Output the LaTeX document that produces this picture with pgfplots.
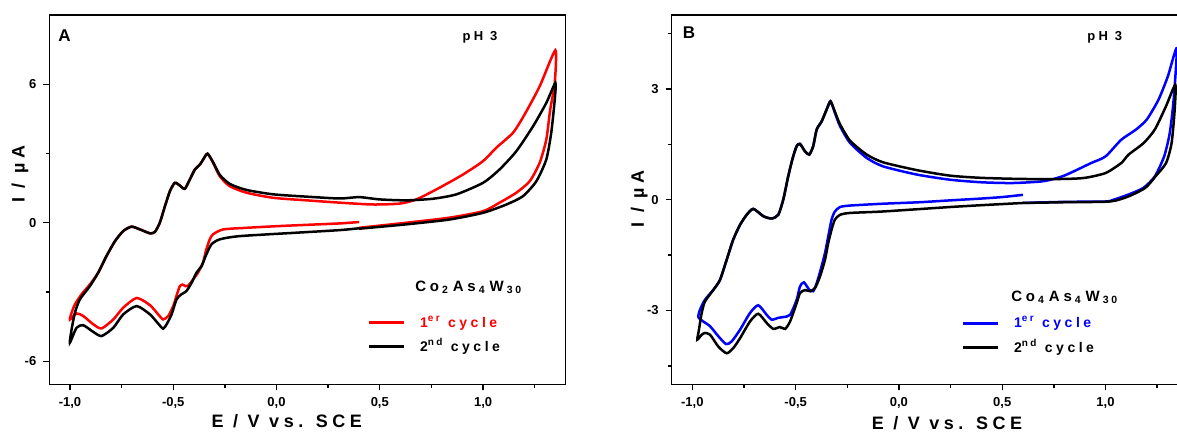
\documentclass[border=0pt]{standalone}
\usepackage{fontspec}
\setmainfont{Liberation Sans}
\newfontfamily\ls{Liberation Sans}[LetterSpace=25]
\newcommand\sub[1]{\hspace{1.5pt}\textsubscript{#1}\hspace{2pt}}
\usepackage{pgfplots}
\pgfplotsset{compat=1.18}
\pgfplotsset{cvaxis/.style={
  scale only axis, width=258.2pt, height=184.65pt,
  xmin=-1.1, xmax=1.4,
  axis line style={line width=0.75pt},
  tick style={line width=0.7pt, black},
  tick align=outside, xtick pos=bottom, ytick pos=left,
  major tick length=3pt, minor tick length=1.8pt,
  xtick={-1,-0.5,0,0.5,1}, xticklabels={{-1,0},{-0,5},{0,0},{0,5},{1,0}},
  minor xtick={-0.75,-0.25,0.25,0.75,1.25},
  ticklabel style={font=\bfseries\fontsize{6.5}{7}\selectfont},
  label style={font=\ls\bfseries\fontsize{9}{10}\selectfont},
  xlabel={E / V vs. SCE}, ylabel={I / µA},
  legend style={draw=none, fill=none, inner sep=0pt, row sep=4pt,
    font=\ls\bfseries\fontsize{7}{8}\selectfont, nodes={inner sep=0pt, anchor=west}},
  legend cell align=left,
  legend image code/.code={\draw[##1, line width=1.5pt] (0pt,0pt) -- (17.5pt,0pt); \path (25pt,0pt);},
}}
\begin{document}
\begin{tikzpicture}
\useasboundingbox (0,0) rectangle (588.5pt,216pt);
\clip (0,0) rectangle (588.5pt,216pt);
% ---------------- Panel A ----------------
\begin{axis}[cvaxis, at={(24.65pt,23.85pt)}, anchor=south west,
  ymin=-7, ymax=9, ytick={-6,0,6}, yticklabels={-6,0,6}, minor ytick={-3,3},
  xlabel style={at={(axis description cs:0.46,-0.101)}, anchor=center},
  ylabel style={at={(axis description cs:-0.057,0.569)}, anchor=center},
  legend style={at={(axis description cs:0.615,0.1335)}, anchor=west}]
\addplot[red, line width=1.25pt, smooth, tension=0.4] coordinates {
(0.40,0.03) (0.306,-0.03) (0.15,-0.09) (0.0,-0.15) (-0.145,-0.22) (-0.258,-0.29)
(-0.307,-0.5) (-0.323,-0.72) (-0.34,-1.16) (-0.356,-1.73) (-0.38,-2.16) (-0.403,-2.45)
(-0.427,-2.72) (-0.44,-2.75) (-0.455,-2.68) (-0.468,-2.75) (-0.48,-3.05) (-0.5,-3.61)
(-0.524,-4.04) (-0.549,-4.19) (-0.573,-3.97) (-0.613,-3.57) (-0.677,-3.26) (-0.742,-3.68)
(-0.79,-4.19) (-0.847,-4.58) (-0.887,-4.4) (-0.936,-4.04) (-0.968,-3.93) (-1.0,-4.19)
(-0.992,-3.9) (-0.976,-3.54) (-0.944,-3.1) (-0.903,-2.67) (-0.863,-2.16) (-0.823,-1.44)
(-0.782,-0.8) (-0.742,-0.36) (-0.702,-0.17) (-0.661,-0.29) (-0.613,-0.46) (-0.589,-0.4)
(-0.565,0.0) (-0.54,0.72) (-0.516,1.37) (-0.492,1.73) (-0.468,1.61) (-0.444,1.47)
(-0.42,1.87) (-0.395,2.31) (-0.371,2.52) (-0.355,2.74) (-0.334,2.99) (-0.307,2.6)
(-0.275,2.02) (-0.226,1.58) (-0.145,1.3) (-0.016,1.08) (0.145,0.97) (0.306,0.87)
(0.467,0.79) (0.597,0.83) (0.677,1.01) (0.79,1.52) (0.903,2.09) (1.0,2.67)
(1.064,3.25) (1.145,3.9) (1.201,4.69) (1.274,5.91) (1.35,7.47)
(1.347,6.06) (1.325,4.9) (1.306,3.6) (1.274,2.6) (1.226,1.8) (1.161,1.3)
(1.08,0.87) (1.0,0.5) (0.838,0.22) (0.629,0.0) (0.4,-0.22)
};
\addlegendentry{\textcolor{red}{1\textsuperscript{er} cycle}}
\addplot[black, line width=1.25pt, smooth, tension=0.4] coordinates {
(0.4,-0.24) (0.306,-0.32) (0.1,-0.43) (-0.178,-0.58) (-0.275,-0.72) (-0.315,-0.94)
(-0.34,-1.38) (-0.363,-1.88) (-0.387,-2.16) (-0.411,-2.6) (-0.436,-2.96) (-0.46,-3.1)
(-0.484,-3.32) (-0.508,-3.97) (-0.532,-4.4) (-0.549,-4.59) (-0.573,-4.37) (-0.613,-3.97)
(-0.677,-3.61) (-0.742,-3.97) (-0.79,-4.55) (-0.847,-4.91) (-0.887,-4.73) (-0.936,-4.44)
(-0.968,-4.55) (-1.0,-5.19)
(-0.992,-4.62) (-0.976,-3.9) (-0.952,-3.32) (-0.903,-2.74) (-0.863,-2.16) (-0.823,-1.44)
(-0.782,-0.8) (-0.742,-0.36) (-0.702,-0.17) (-0.661,-0.29) (-0.613,-0.46) (-0.589,-0.4)
(-0.565,0.0) (-0.54,0.72) (-0.516,1.37) (-0.492,1.73) (-0.468,1.61) (-0.444,1.47)
(-0.42,1.87) (-0.395,2.31) (-0.371,2.52) (-0.355,2.74) (-0.334,2.99) (-0.307,2.62)
(-0.275,2.08) (-0.226,1.68) (-0.145,1.42) (-0.016,1.23) (0.145,1.13) (0.306,1.05)
(0.4,1.11) (0.5,1.01) (0.629,0.97) (0.758,1.04) (0.871,1.23) (1.0,1.73)
(1.08,2.31) (1.161,3.1) (1.242,4.18) (1.306,5.19) (1.35,6.06)
(1.347,5.34) (1.33,3.9) (1.306,2.74) (1.258,1.8) (1.193,1.15) (1.113,0.79)
(1.0,0.43) (0.838,0.14) (0.629,-0.07) (0.4,-0.26)
};
\addlegendentry{2\textsuperscript{nd} cycle}
\node[anchor=north west, inner sep=0pt, font=\bfseries\fontsize{8.5}{9}\selectfont] at (axis description cs:0.017,0.962) {A};
\node[font=\ls\bfseries\fontsize{6.5}{7}\selectfont] at (axis description cs:0.834,0.94) {pH 3};
\node[anchor=west, inner sep=0pt, font=\ls\bfseries\fontsize{7.5}{8}\selectfont] at (axis description cs:0.708,0.263) {Co\sub{2}As\sub{4}W\sub{30}};
\end{axis}
% ---------------- Panel B ----------------
\begin{axis}[cvaxis, at={(335.85pt,23.85pt)}, anchor=south west,
  ymin=-5, ymax=5, ytick={-3,0,3}, yticklabels={-3,0,3}, minor ytick={-4.5,-1.5,1.5,4.5},
  xlabel style={at={(axis description cs:0.533,-0.104)}, anchor=center},
  ylabel style={at={(axis description cs:-0.063,0.502)}, anchor=center},
  legend style={at={(axis description cs:0.56,0.131)}, anchor=west}]
\addplot[blue, line width=1.25pt, smooth, tension=0.4] coordinates {
(0.60,0.13) (0.5,0.07) (0.4,0.03) (0.247,-0.02) (0.1,-0.07) (-0.076,-0.11) (-0.237,-0.16)
(-0.285,-0.2) (-0.31,-0.32) (-0.326,-0.54) (-0.342,-0.99) (-0.358,-1.45) (-0.379,-1.9)
(-0.398,-2.26) (-0.415,-2.48) (-0.434,-2.44) (-0.46,-2.24) (-0.479,-2.35) (-0.495,-2.71)
(-0.527,-3.12) (-0.56,-3.18) (-0.584,-3.2) (-0.616,-3.25) (-0.64,-3.12) (-0.681,-2.86)
(-0.721,-3.07) (-0.769,-3.52) (-0.81,-3.84) (-0.837,-3.91) (-0.874,-3.7) (-0.914,-3.43)
(-0.947,-3.3) (-0.971,-3.18)
(-0.963,-2.98) (-0.939,-2.71) (-0.898,-2.44) (-0.866,-2.17) (-0.834,-1.63) (-0.802,-1.08)
(-0.769,-0.68) (-0.737,-0.41) (-0.705,-0.25) (-0.656,-0.45) (-0.616,-0.51) (-0.584,-0.41)
(-0.56,0.0) (-0.536,0.63) (-0.514,1.13) (-0.495,1.45) (-0.479,1.51) (-0.455,1.31)
(-0.434,1.22) (-0.415,1.45) (-0.398,1.9) (-0.374,2.12) (-0.35,2.44) (-0.331,2.66)
(-0.31,2.35) (-0.285,1.99) (-0.237,1.54) (-0.156,1.13) (-0.076,0.9) (0.086,0.68)
(0.247,0.54) (0.4,0.47) (0.55,0.45) (0.7,0.5) (0.8,0.65) (0.93,0.99) (1.0,1.17)
(1.076,1.62) (1.148,1.9) (1.2,2.17) (1.257,2.71) (1.302,3.34) (1.345,4.1)
(1.33,2.71) (1.311,1.8) (1.284,1.17) (1.239,0.63) (1.184,0.32) (1.112,0.14)
(1.04,0.0) (1.0,-0.05) (0.8,-0.06) (0.6,-0.09)
};
\addlegendentry{\textcolor{blue}{1\textsuperscript{er} cycle}}
\addplot[black, line width=1.25pt, smooth, tension=0.4] coordinates {
(0.6,-0.09) (0.4,-0.15) (0.247,-0.2) (-0.076,-0.32) (-0.237,-0.36) (-0.285,-0.41)
(-0.31,-0.54) (-0.326,-0.81) (-0.342,-1.17) (-0.358,-1.63) (-0.382,-2.08) (-0.406,-2.39)
(-0.43,-2.48) (-0.455,-2.45) (-0.479,-2.53) (-0.495,-2.8) (-0.527,-3.3) (-0.551,-3.5)
(-0.576,-3.45) (-0.608,-3.5) (-0.64,-3.34) (-0.681,-3.09) (-0.721,-3.3) (-0.769,-3.75)
(-0.802,-4.02) (-0.834,-4.16) (-0.874,-3.98) (-0.914,-3.66) (-0.939,-3.61) (-0.955,-3.66)
(-0.976,-3.79)
(-0.968,-3.52) (-0.955,-3.07) (-0.939,-2.76) (-0.898,-2.44) (-0.866,-2.17) (-0.834,-1.63)
(-0.802,-1.08) (-0.769,-0.68) (-0.737,-0.41) (-0.705,-0.25) (-0.656,-0.45) (-0.616,-0.51)
(-0.584,-0.41) (-0.56,0.0) (-0.536,0.63) (-0.514,1.13) (-0.495,1.45) (-0.479,1.51)
(-0.455,1.31) (-0.434,1.22) (-0.415,1.45) (-0.398,1.9) (-0.374,2.12) (-0.35,2.44)
(-0.331,2.66) (-0.31,2.38) (-0.285,2.04) (-0.237,1.6) (-0.156,1.22) (-0.076,1.01)
(0.086,0.8) (0.247,0.65) (0.4,0.59) (0.6,0.56) (0.8,0.56) (0.9,0.59) (1.0,0.72)
(1.076,0.99) (1.112,1.22) (1.184,1.53) (1.239,1.9) (1.293,2.53) (1.338,3.11)
(1.335,2.44) (1.32,1.53) (1.293,0.99) (1.242,0.63) (1.193,0.32) (1.112,0.09)
(1.022,-0.05) (0.8,-0.07) (0.6,-0.09)
};
\addlegendentry{2\textsuperscript{nd} cycle}
\node[anchor=north west, inner sep=0pt, font=\bfseries\fontsize{8.5}{9}\selectfont] at (axis description cs:0.021,0.968) {B};
\node[font=\ls\bfseries\fontsize{6.5}{7}\selectfont] at (axis description cs:0.8385,0.94) {pH 3};
\node[anchor=west, inner sep=0pt, font=\ls\bfseries\fontsize{7.5}{8}\selectfont] at (axis description cs:0.657,0.236) {Co\sub{4}As\sub{4}W\sub{30}};
\end{axis}
\end{tikzpicture}
\end{document}
